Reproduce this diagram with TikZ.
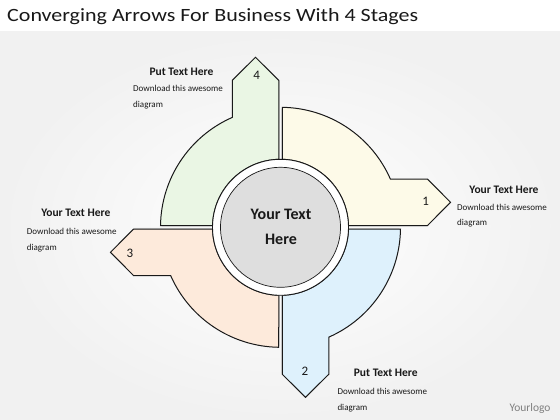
\documentclass[tikz,border=0pt]{standalone}
\usepackage{fontspec}
\setmainfont{Carlito}
\definecolor{qgreen}{RGB}{234,246,228}
\definecolor{qyellow}{RGB}{253,250,232}
\definecolor{qorange}{RGB}{253,234,219}
\definecolor{qblue}{RGB}{222,241,252}
\definecolor{cgray}{RGB}{222,222,222}
\definecolor{bgc}{RGB}{241,241,241}
\definecolor{ink}{RGB}{25,25,25}
\begin{document}
\begin{tikzpicture}[x=1pt,y=1pt,
  quad/.style={draw=ink, line width=1pt, line join=miter},
  head/.style={font=\fontsize{11.5}{13}\selectfont\bfseries, text=ink, inner sep=0pt},
  body/.style={font=\fontsize{9}{16}\selectfont, text=ink, align=left, anchor=west, inner sep=0pt},
  num/.style={font=\fontsize{13}{14}\selectfont, text=ink, inner sep=0pt}]
\useasboundingbox (0,0) rectangle (560,420);
% background
\fill[white] (0,0) rectangle (560,420);
\shade[inner color=white, outer color=bgc] (0,0) rectangle (560,388);
% title
\node[anchor=base west, inner sep=0pt, text=ink] (title) at (7,398.3)
  {\resizebox{411pt}{13pt}{Converging Arrows For Business With 4 Stages}};
% quadrants
\begin{scope}[shift={(280.5,192.7)}]
\foreach \ang/\col in {0/qgreen, -90/qyellow, -180/qblue, 90/qorange} {
  \fill[black, opacity=0.10, rotate=\ang, shift={(1.2,-1.2)}]
    (-1.75,{sqrt(68^2-1.75^2)}) -- (-1.75,147) -- (-25,170) -- (-48.25,147)
    -- (-48.25,{sqrt(120^2-48.25^2)})
    arc[start angle={90+asin(48.25/120)}, end angle={180-asin(1.75/120)}, radius=120]
    -- ({-sqrt(68^2-1.75^2)},1.75)
    arc[start angle={180-asin(1.75/68)}, end angle={90+asin(1.75/68)}, radius=68] -- cycle;
  \filldraw[quad, fill=\col, rotate=\ang]
    (-1.75,{sqrt(68^2-1.75^2)}) -- (-1.75,147) -- (-25,170) -- (-48.25,147)
    -- (-48.25,{sqrt(120^2-48.25^2)})
    arc[start angle={90+asin(48.25/120)}, end angle={180-asin(1.75/120)}, radius=120]
    -- ({-sqrt(68^2-1.75^2)},1.75)
    arc[start angle={180-asin(1.75/68)}, end angle={90+asin(1.75/68)}, radius=68] -- cycle;
}
\node[num] (n4) at (-23.8,152.3) {4};
\node[num] (n1) at (145.2,25.6) {1};
\node[num] (n3) at (-150.5,-25.7) {3};
\node[num] (n2) at (24.5,-144.4) {2};
% centre
\filldraw[fill=white, draw=ink, line width=0.9pt] (0,0) circle[radius=68];
\filldraw[fill=cgray, draw=ink, line width=0.7pt] (0,0) circle[radius=60];
\node[font=\fontsize{16}{25}\selectfont\bfseries, text=ink, align=center, inner sep=0pt] (centre) at (0.5,0) {Your Text\\Here};
\end{scope}
% labels
\node[head] (h4) at (181.5,348) {Put Text Here};
\node[body] (b4) at (133,323) {Download this awesome\\diagram};
\node[head] (h1) at (504,230) {Your Text Here};
\node[body, font=\fontsize{9}{15}\selectfont] (b1) at (457,204.5) {Download this awesome\\diagram};
\node[head] (h3) at (75.8,207) {Your Text Here};
\node[body] (b3) at (26.7,180.1) {Download this awesome\\diagram};
\node[head] (h2) at (385.8,47) {Put Text Here};
\node[body, font=\fontsize{9}{16.6}\selectfont] (b2) at (337.3,20) {Download this awesome\\diagram};
\node[font=\fontsize{11.5}{13}\selectfont, text=gray, inner sep=0pt] (logo) at (530,12) {Yourlogo};
\end{tikzpicture}
\end{document}
